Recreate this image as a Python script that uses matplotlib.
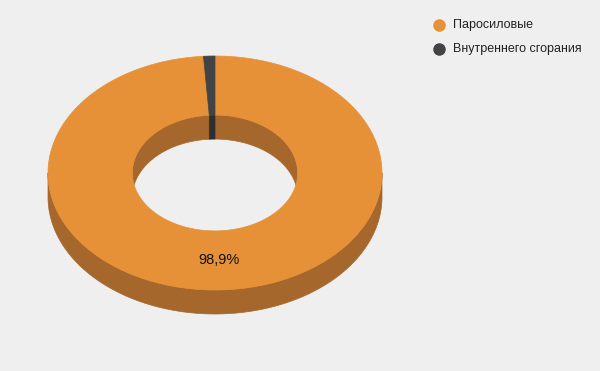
import numpy as np
import matplotlib.pyplot as plt
from matplotlib.patches import Polygon

plt.rcParams['font.family'] = ['Liberation Sans', 'DejaVu Sans']

# Data
labels = ['Паросиловые', 'Внутреннего сгорания']
values = [98.9, 1.1]
top_colors = ['#e69138', '#434343']
side_colors = ['#a5672b', '#2e2e2e']

# Layout (pixels)
W, H = 600, 371
cx, cy = 215, 173
rx, ry = 167, 117
depth = 24
hole = 0.495
bg = '#efefef'


def arc(t0, t1, sx, sy, dy=0, n=200):
    # angles in degrees, clockwise from 12 o'clock
    t = np.radians(np.linspace(t0, t1, n))
    return np.column_stack([cx + sx * np.sin(t), cy - sy * np.cos(t) + dy])


def overlap(a0, a1, b0, b1):
    parts = []
    for shift in (-360, 0, 360):
        lo, hi = max(a0 + shift, b0), min(a1 + shift, b1)
        if hi > lo:
            parts.append((lo, hi))
    return parts


fig = plt.figure(figsize=(6, 3.71), dpi=100)
fig.patch.set_facecolor(bg)
ax = fig.add_axes([0, 0, 1, 1])
ax.set_xlim(0, W)
ax.set_ylim(H, 0)
ax.axis('off')

frac = np.array(values) / sum(values)
ends = np.cumsum(frac) * 360
starts = ends - frac * 360

# outer side wall (front half)
for s, e, c in zip(starts, ends, side_colors):
    for lo, hi in overlap(s, e, 90, 270):
        pts = np.vstack([arc(lo, hi, rx, ry), arc(hi, lo, rx, ry, depth)])
        ax.add_patch(Polygon(pts, closed=True, fc=c, ec=c, lw=0.5))

# inner wall (back half, seen through hole)
for s, e, c in zip(starts, ends, side_colors):
    for lo, hi in overlap(s, e, 270, 450):
        pts = np.vstack([arc(lo, hi, rx * hole, ry * hole),
                         arc(hi, lo, rx * hole, ry * hole, depth)])
        ax.add_patch(Polygon(pts, closed=True, fc=c, ec=c, lw=0.5))

# top faces
for s, e, c in zip(starts, ends, top_colors):
    pts = np.vstack([arc(s, e, rx, ry), arc(e, s, rx * hole, ry * hole)])
    ax.add_patch(Polygon(pts, closed=True, fc=c, ec=c, lw=0.5))

# percentage label on the big slice
for s, e, v in zip(starts, ends, values):
    if v > 5:
        m = np.radians((s + e) / 2)
        r = (1 + hole) / 2
        ax.text(cx + r * rx * np.sin(m), cy - r * ry * np.cos(m),
                f'{v:.1f}%'.replace('.', ','), ha='center', va='center',
                fontsize=10.5, color='#111111')

# legend
for i, (lab, c) in enumerate(zip(labels, top_colors)):
    y = 25 + i * 24
    ax.plot(439, y, 'o', ms=8, color=c, mec=c)
    ax.text(453, y, lab, ha='left', va='center', fontsize=9, color='#222222')

fig.savefig('out.png', dpi=100, facecolor=bg)
